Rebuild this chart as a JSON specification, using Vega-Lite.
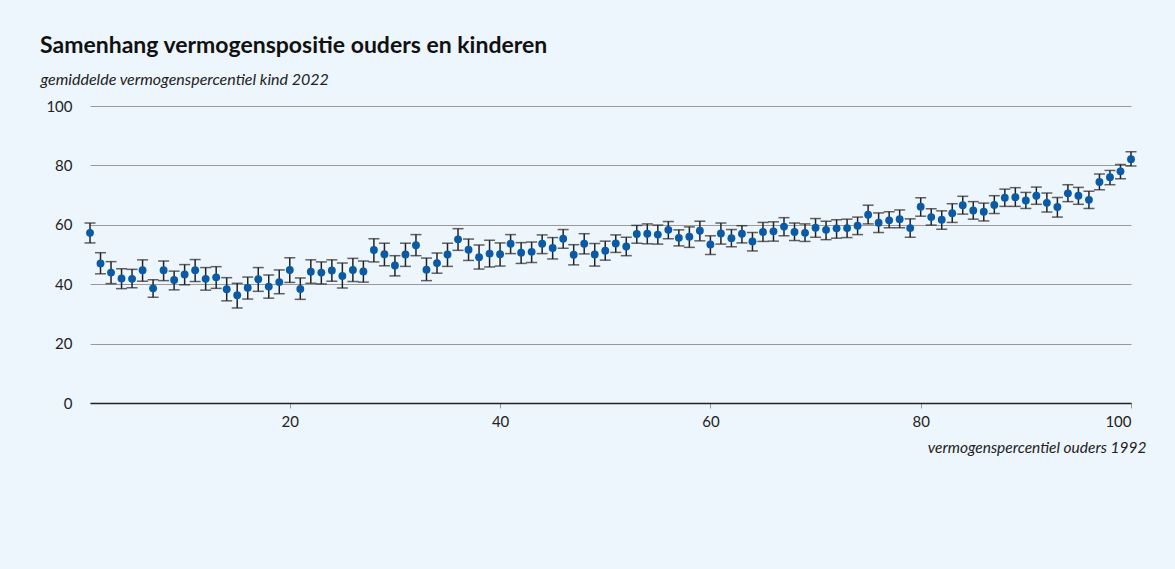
{
  "$schema": "https://vega.github.io/schema/vega-lite/v6.json",
  "width": 1041,
  "height": 297,
  "autosize": {"type": "none"},
  "padding": {"left": 90, "top": 106, "right": 44, "bottom": 166},
  "background": "#edf6fd",
  "title": {
    "text": "Samenhang vermogenspositie ouders en kinderen",
    "anchor": "start",
    "frame": "group",
    "dx": -50,
    "offset": 13,
    "font": "Lato",
    "fontSize": 23,
    "fontWeight": "bold",
    "color": "#111111"
  },
  "config": {
    "view": {"stroke": null},
    "axisX": {
      "grid": false,
      "domainColor": "#222222",
      "domainWidth": 1.5,
      "tickColor": "#999999",
      "tickSize": 5,
      "labelFont": "Lato",
      "labelFontSize": 15,
      "labelColor": "#222222",
      "labelPadding": 6,
      "titleFont": "Lato",
      "titleFontSize": 15.5,
      "titleFontStyle": "italic",
      "titleFontWeight": "normal",
      "titleColor": "#222222",
      "titleX": 1056,
      "titleY": 49,
      "titleAlign": "right",
      "titleBaseline": "alphabetic",
      "titleAnchor": null
    },
    "axisY": {
      "grid": true,
      "gridColor": "#9a9a9a",
      "gridWidth": 1,
      "domain": false,
      "ticks": false,
      "labelFont": "Lato",
      "labelFontSize": 15,
      "labelColor": "#222222",
      "labelPadding": 18,
      "titleFont": "Lato",
      "titleFontSize": 16,
      "titleFontStyle": "italic",
      "titleFontWeight": "normal",
      "titleColor": "#222222",
      "titleAngle": 0,
      "titleX": -50,
      "titleY": -22,
      "titleAlign": "left",
      "titleBaseline": "alphabetic",
      "titleAnchor": null
    }
  },
  "data": {
    "values": [
      {"p":1,"m":57.3,"lo":53.9,"hi":60.6},
      {"p":2,"m":47.0,"lo":43.5,"hi":50.6},
      {"p":3,"m":43.9,"lo":40.2,"hi":47.6},
      {"p":4,"m":41.9,"lo":38.5,"hi":45.2},
      {"p":5,"m":41.8,"lo":38.8,"hi":45.0},
      {"p":6,"m":44.7,"lo":41.0,"hi":48.2},
      {"p":7,"m":38.6,"lo":35.6,"hi":41.5},
      {"p":8,"m":44.7,"lo":41.2,"hi":47.8},
      {"p":9,"m":41.4,"lo":38.1,"hi":44.4},
      {"p":10,"m":43.3,"lo":39.8,"hi":46.6},
      {"p":11,"m":44.7,"lo":40.9,"hi":48.3},
      {"p":12,"m":41.8,"lo":38.0,"hi":45.6},
      {"p":13,"m":42.3,"lo":38.6,"hi":45.9},
      {"p":14,"m":38.3,"lo":34.4,"hi":42.2},
      {"p":15,"m":36.3,"lo":32.0,"hi":40.3},
      {"p":16,"m":38.8,"lo":35.0,"hi":42.4},
      {"p":17,"m":41.7,"lo":37.6,"hi":45.6},
      {"p":18,"m":39.2,"lo":35.3,"hi":43.1},
      {"p":19,"m":40.7,"lo":36.8,"hi":44.8},
      {"p":20,"m":44.8,"lo":40.6,"hi":48.9},
      {"p":21,"m":38.4,"lo":34.9,"hi":42.1},
      {"p":22,"m":44.2,"lo":40.3,"hi":48.2},
      {"p":23,"m":43.9,"lo":40.1,"hi":47.5},
      {"p":24,"m":44.6,"lo":41.0,"hi":48.2},
      {"p":25,"m":42.8,"lo":38.7,"hi":47.1},
      {"p":26,"m":44.8,"lo":40.9,"hi":48.7},
      {"p":27,"m":44.3,"lo":40.7,"hi":47.8},
      {"p":28,"m":51.5,"lo":47.5,"hi":55.3},
      {"p":29,"m":50.1,"lo":46.2,"hi":53.8},
      {"p":30,"m":46.3,"lo":42.8,"hi":49.6},
      {"p":31,"m":50.0,"lo":46.0,"hi":53.8},
      {"p":32,"m":53.1,"lo":49.6,"hi":56.7},
      {"p":33,"m":44.9,"lo":41.2,"hi":48.8},
      {"p":34,"m":47.1,"lo":43.7,"hi":50.5},
      {"p":35,"m":50.0,"lo":46.0,"hi":53.8},
      {"p":36,"m":55.1,"lo":51.4,"hi":58.7},
      {"p":37,"m":51.6,"lo":48.0,"hi":55.2},
      {"p":38,"m":49.1,"lo":45.1,"hi":53.2},
      {"p":39,"m":50.3,"lo":45.8,"hi":54.8},
      {"p":40,"m":50.1,"lo":46.1,"hi":53.9},
      {"p":41,"m":53.6,"lo":50.3,"hi":56.7},
      {"p":42,"m":50.6,"lo":47.0,"hi":54.0},
      {"p":43,"m":50.9,"lo":47.3,"hi":54.2},
      {"p":44,"m":53.6,"lo":50.3,"hi":56.6},
      {"p":45,"m":52.2,"lo":48.5,"hi":55.7},
      {"p":46,"m":55.3,"lo":52.1,"hi":58.4},
      {"p":47,"m":49.9,"lo":46.5,"hi":53.3},
      {"p":48,"m":53.6,"lo":50.2,"hi":57.0},
      {"p":49,"m":50.0,"lo":46.1,"hi":53.7},
      {"p":50,"m":51.3,"lo":48.1,"hi":54.5},
      {"p":51,"m":53.7,"lo":50.7,"hi":56.6},
      {"p":52,"m":52.7,"lo":49.6,"hi":55.8},
      {"p":53,"m":56.9,"lo":53.8,"hi":59.8},
      {"p":54,"m":57.0,"lo":53.6,"hi":60.3},
      {"p":55,"m":56.7,"lo":53.5,"hi":59.9},
      {"p":56,"m":58.3,"lo":55.3,"hi":61.1},
      {"p":57,"m":55.6,"lo":52.9,"hi":58.3},
      {"p":58,"m":56.0,"lo":52.4,"hi":59.3},
      {"p":59,"m":58.0,"lo":54.6,"hi":61.2},
      {"p":60,"m":53.4,"lo":50.0,"hi":56.3},
      {"p":61,"m":57.1,"lo":53.5,"hi":60.6},
      {"p":62,"m":55.5,"lo":52.6,"hi":58.4},
      {"p":63,"m":57.0,"lo":53.9,"hi":59.7},
      {"p":64,"m":54.4,"lo":51.2,"hi":57.4},
      {"p":65,"m":57.6,"lo":54.4,"hi":60.8},
      {"p":66,"m":57.8,"lo":54.5,"hi":61.0},
      {"p":67,"m":59.4,"lo":56.3,"hi":62.4},
      {"p":68,"m":57.6,"lo":54.7,"hi":60.6},
      {"p":69,"m":57.3,"lo":54.4,"hi":60.3},
      {"p":70,"m":59.0,"lo":55.8,"hi":62.1},
      {"p":71,"m":58.3,"lo":55.0,"hi":61.2},
      {"p":72,"m":58.8,"lo":55.5,"hi":61.7},
      {"p":73,"m":58.9,"lo":55.7,"hi":61.9},
      {"p":74,"m":59.7,"lo":56.7,"hi":62.6},
      {"p":75,"m":63.4,"lo":60.3,"hi":66.6},
      {"p":76,"m":60.7,"lo":57.4,"hi":64.0},
      {"p":77,"m":61.5,"lo":59.0,"hi":64.4},
      {"p":78,"m":61.9,"lo":59.0,"hi":65.0},
      {"p":79,"m":58.9,"lo":55.8,"hi":62.0},
      {"p":80,"m":66.1,"lo":62.9,"hi":69.1},
      {"p":81,"m":62.6,"lo":59.9,"hi":65.4},
      {"p":82,"m":61.7,"lo":58.5,"hi":64.7},
      {"p":83,"m":63.9,"lo":60.8,"hi":67.1},
      {"p":84,"m":66.6,"lo":63.6,"hi":69.6},
      {"p":85,"m":64.8,"lo":61.9,"hi":67.8},
      {"p":86,"m":64.4,"lo":61.3,"hi":67.3},
      {"p":87,"m":66.7,"lo":63.8,"hi":69.8},
      {"p":88,"m":69.1,"lo":66.2,"hi":72.0},
      {"p":89,"m":69.3,"lo":66.2,"hi":72.5},
      {"p":90,"m":68.2,"lo":65.5,"hi":70.9},
      {"p":91,"m":69.8,"lo":66.9,"hi":72.7},
      {"p":92,"m":67.4,"lo":64.3,"hi":70.7},
      {"p":93,"m":66.0,"lo":62.6,"hi":69.2},
      {"p":94,"m":70.6,"lo":67.8,"hi":73.5},
      {"p":95,"m":69.8,"lo":66.9,"hi":72.6},
      {"p":96,"m":68.4,"lo":65.5,"hi":71.3},
      {"p":97,"m":74.4,"lo":71.8,"hi":77.1},
      {"p":98,"m":76.0,"lo":73.5,"hi":78.3},
      {"p":99,"m":78.0,"lo":75.5,"hi":80.3},
      {"p":100,"m":82.1,"lo":79.8,"hi":84.6}
    ]
  },
  "encoding": {
    "x": {
      "field": "p",
      "type": "quantitative",
      "scale": {"domain": [1, 100], "nice": false, "zero": false},
      "axis": {"values": [20, 40, 60, 80, 100], "title": "vermogenspercentiel ouders 1992"}
    }
  },
  "layer": [
    {
      "mark": {
        "type": "errorbar",
        "color": "#222222",
        "thickness": 1.5,
        "ticks": {"size": 11, "color": "#222222", "strokeWidth": 1.5}
      },
      "encoding": {
        "y": {
          "field": "lo",
          "type": "quantitative",
          "scale": {"domain": [0, 100], "nice": false},
          "axis": {"values": [0, 20, 40, 60, 80, 100], "title": "gemiddelde vermogenspercentiel kind 2022"}
        },
        "y2": {"field": "hi"}
      }
    },
    {
      "mark": {"type": "circle", "size": 62, "opacity": 1, "color": "#0a5aa6"},
      "encoding": {
        "y": {
          "field": "m",
          "type": "quantitative",
          "scale": {"domain": [0, 100], "nice": false},
          "axis": {"values": [0, 20, 40, 60, 80, 100], "title": "gemiddelde vermogenspercentiel kind 2022"}
        }
      }
    }
  ]
}
